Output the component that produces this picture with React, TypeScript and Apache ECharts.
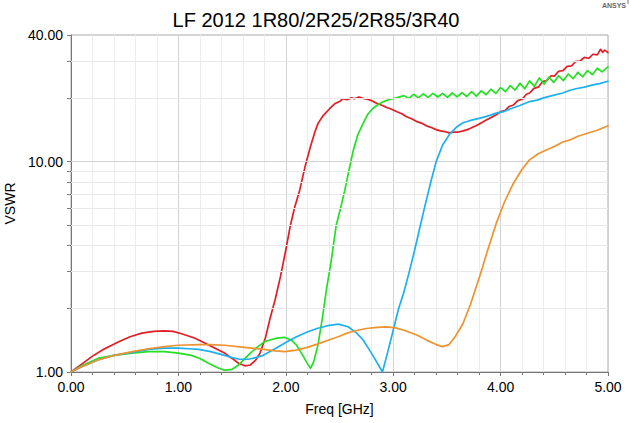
import React, { useEffect, useRef } from 'react';
import * as echarts from 'echarts';

const titleText = 'LF 2012 1R80/2R25/2R85/3R40';
const xTitle = 'Freq [GHz]';
const yTitle = 'VSWR';
const seriesNames = ['1R80', '2R25', '2R85', '3R40'];

const redData = [
  [0, 1.0], [0.1, 1.09], [0.19, 1.18], [0.3, 1.28], [0.44, 1.39], [0.55, 1.47], [0.66, 1.53], [0.77, 1.56],
  [0.87, 1.57], [0.95, 1.56], [1.03, 1.52], [1.15, 1.45], [1.25, 1.37], [1.35, 1.29], [1.43, 1.23], [1.5, 1.16],
  [1.56, 1.1], [1.62, 1.07], [1.67, 1.08], [1.72, 1.14], [1.76, 1.23], [1.81, 1.45], [1.85, 1.77], [1.9, 2.2],
  [1.95, 2.84], [2.0, 3.8], [2.04, 4.9], [2.08, 6.0], [2.13, 7.34], [2.18, 9.5], [2.23, 11.8], [2.27, 13.8],
  [2.3, 15.2], [2.35, 16.6], [2.41, 17.9], [2.46, 18.9], [2.5, 19.3], [2.53, 19.9], [2.57, 19.7], [2.61, 20.1],
  [2.64, 19.9], [2.68, 20.3], [2.72, 20.0], [2.76, 19.8], [2.8, 19.5], [2.85, 18.9], [2.9, 18.5], [2.94, 18.1],
  [2.98, 17.8], [3.03, 17.3], [3.08, 16.9], [3.12, 16.4], [3.17, 16.0], [3.22, 15.5], [3.27, 15.2], [3.31, 14.8],
  [3.36, 14.5], [3.4, 14.2], [3.44, 14.0], [3.48, 13.9], [3.52, 13.7], [3.56, 13.8], [3.6, 13.8], [3.65, 14.0],
  [3.69, 14.2], [3.72, 14.4], [3.77, 14.8], [3.81, 15.2], [3.85, 15.6], [3.88, 15.9], [3.92, 16.3], [3.96, 16.7],
  [4.0, 17.3], [4.04, 17.5], [4.08, 18.3], [4.12, 18.6], [4.16, 19.5], [4.2, 19.8], [4.24, 20.9], [4.27, 21.2],
  [4.31, 22.3], [4.35, 22.6], [4.39, 24.0], [4.43, 24.3], [4.47, 25.6], [4.5, 25.5], [4.54, 26.9], [4.58, 27.1],
  [4.62, 28.4], [4.66, 28.5], [4.7, 30.0], [4.74, 30.1], [4.78, 31.3], [4.82, 31.0], [4.86, 32.4], [4.9, 32.2],
  [4.93, 34.2], [4.95, 33.1], [4.97, 33.9], [5.0, 33.0],
];

const greenData = [
  [0, 1.0], [0.1, 1.07], [0.25, 1.16], [0.4, 1.2], [0.57, 1.23], [0.72, 1.25], [0.87, 1.25], [1.0, 1.23],
  [1.12, 1.2], [1.2, 1.16], [1.28, 1.1], [1.36, 1.05], [1.43, 1.02], [1.5, 1.03], [1.56, 1.08], [1.62, 1.16],
  [1.67, 1.23], [1.74, 1.32], [1.8, 1.39], [1.85, 1.42], [1.92, 1.45], [1.99, 1.46], [2.05, 1.42], [2.1, 1.34],
  [2.15, 1.22], [2.19, 1.12], [2.23, 1.04], [2.26, 1.12], [2.3, 1.35], [2.34, 1.8], [2.38, 2.5], [2.42, 3.3],
  [2.47, 5.0], [2.51, 6.0], [2.55, 7.34], [2.59, 9.2], [2.63, 11.4], [2.67, 13.4], [2.72, 15.2], [2.76, 16.7],
  [2.81, 17.9], [2.86, 18.7], [2.91, 19.3], [2.97, 19.8], [3.03, 20.1], [3.1, 20.6], [3.145, 20.0], [3.19, 20.9],
  [3.235, 20.1], [3.28, 21.0], [3.325, 20.2], [3.37, 21.1], [3.415, 20.3], [3.46, 21.1], [3.505, 20.2], [3.55, 21.2],
  [3.595, 20.3], [3.64, 21.3], [3.685, 20.4], [3.73, 21.5], [3.775, 20.5], [3.82, 21.7], [3.865, 20.8], [3.91, 22.1],
  [3.955, 21.1], [4.0, 22.5], [4.045, 21.5], [4.09, 23.0], [4.135, 21.9], [4.18, 23.6], [4.225, 22.2], [4.27, 24.2],
  [4.315, 22.8], [4.36, 25.0], [4.405, 23.4], [4.45, 25.2], [4.495, 23.8], [4.54, 25.6], [4.585, 24.3], [4.63, 26.1],
  [4.675, 24.8], [4.72, 26.6], [4.765, 25.3], [4.81, 27.1], [4.855, 25.9], [4.9, 27.8], [4.945, 26.7], [5.0, 28.2],
];

const blueData = [
  [0, 1.0], [0.1, 1.06], [0.25, 1.14], [0.4, 1.2], [0.57, 1.24], [0.72, 1.28], [0.87, 1.3], [1.0, 1.3],
  [1.1, 1.29], [1.19, 1.28], [1.3, 1.25], [1.43, 1.2], [1.5, 1.17], [1.57, 1.15], [1.65, 1.15], [1.72, 1.17],
  [1.79, 1.2], [1.9, 1.29], [2.0, 1.38], [2.1, 1.47], [2.2, 1.55], [2.29, 1.61], [2.39, 1.66], [2.49, 1.69],
  [2.58, 1.64], [2.66, 1.53], [2.72, 1.42], [2.78, 1.27], [2.84, 1.13], [2.9, 1.0], [2.95, 1.25], [3.0, 1.58],
  [3.05, 2.0], [3.1, 2.4], [3.15, 3.0], [3.2, 3.8], [3.25, 4.9], [3.3, 6.3], [3.35, 8.0], [3.4, 10.0],
  [3.46, 12.0], [3.53, 13.6], [3.59, 14.6], [3.65, 15.3], [3.72, 15.7], [3.81, 16.1], [3.9, 16.6], [3.96, 17.0],
  [4.03, 17.3], [4.1, 17.9], [4.18, 18.5], [4.27, 19.3], [4.34, 19.6], [4.4, 20.1], [4.48, 20.6], [4.58, 21.2],
  [4.64, 21.8], [4.7, 22.2], [4.78, 22.6], [4.85, 23.1], [4.92, 23.5], [5.0, 24.1],
];

const orangeData = [
  [0, 1.0], [0.1, 1.06], [0.25, 1.14], [0.4, 1.2], [0.57, 1.25], [0.72, 1.29], [0.87, 1.32], [1.0, 1.34],
  [1.19, 1.35], [1.3, 1.35], [1.43, 1.34], [1.55, 1.32], [1.68, 1.3], [1.8, 1.28], [1.9, 1.26], [1.99, 1.25],
  [2.1, 1.27], [2.2, 1.31], [2.3, 1.36], [2.4, 1.42], [2.5, 1.48], [2.57, 1.53], [2.65, 1.57], [2.75, 1.61],
  [2.85, 1.63], [2.94, 1.64], [3.02, 1.62], [3.1, 1.58], [3.22, 1.5], [3.32, 1.41], [3.4, 1.35], [3.46, 1.32],
  [3.52, 1.35], [3.58, 1.48], [3.65, 1.7], [3.72, 2.1], [3.81, 2.9], [3.88, 3.8], [3.96, 5.1], [4.04, 6.5],
  [4.12, 7.9], [4.2, 9.2], [4.27, 10.2], [4.35, 10.9], [4.43, 11.4], [4.5, 11.8], [4.58, 12.4], [4.65, 12.7],
  [4.72, 13.2], [4.8, 13.6], [4.9, 14.1], [5.0, 14.8],
];

const yLabelValues = [1, 10, 40];
const yTickValues = [1, 2, 3, 4, 5, 6, 7, 8, 9, 10, 20, 30, 40];
const yMinorGrid = [2, 3, 4, 5, 6, 7, 8, 9, 20, 30];
const yMajorGrid = [10];

const colors = ['#e31d24', '#22e022', '#1cb0ee', '#f0922e'];

export default function App() {
  const ref = useRef<HTMLDivElement>(null);
  useEffect(() => {
    document.body.style.margin = '0';
    const chart = echarts.init(ref.current!, null, { renderer: 'svg' });
    const font = 'Liberation Sans, Arial, sans-serif';
    const gridLines = [
      ...yMinorGrid.map((v) => ({ yAxis: v, lineStyle: { color: '#e8e8e8', width: 1, type: 'solid' } })),
      ...yMajorGrid.map((v) => ({ yAxis: v, lineStyle: { color: '#d2d2d2', width: 1, type: 'solid' } })),
    ];
    const datasets = [redData, greenData, blueData, orangeData];
    chart.setOption({
      animation: false,
      title: {
        text: titleText,
        left: 'center',
        top: 5,
        textStyle: { fontFamily: font, fontSize: 20, fontWeight: 'normal', color: '#000' },
      },
      graphic: [
        {
          type: 'text',
          right: 6,
          top: 2,
          style: { text: 'ANSYS', font: 'bold 7px ' + font, fill: '#666' },
        },
        {
          type: 'line',
          shape: { x1: 628, y1: 0, x2: 628, y2: 4 },
          style: { stroke: '#bbb', lineWidth: 2 },
        },
      ],
      grid: {
        left: 71,
        right: 24,
        top: 35,
        bottom: 51,
        containLabel: false,
        outerBoundsMode: 'none',
        show: true,
        borderColor: '#a8a8a8',
        borderWidth: 1,
      },
      xAxis: {
        type: 'value',
        min: 0,
        max: 5,
        interval: 1,
        name: xTitle,
        nameLocation: 'middle',
        nameGap: 30,
        nameTextStyle: { fontFamily: font, fontSize: 14, color: '#000' },
        axisLine: { lineStyle: { color: '#777', width: 1 } },
        axisTick: { show: true, length: 4, lineStyle: { color: '#777' } },
        minorTick: { show: true, splitNumber: 5, length: 3, lineStyle: { color: '#777' } },
        axisLabel: { formatter: (v: number) => v.toFixed(2), fontFamily: font, fontSize: 14, color: '#000', margin: 8 },
        splitLine: { show: true, lineStyle: { color: '#d2d2d2', width: 1 } },
        minorSplitLine: { show: true, lineStyle: { color: '#ececec', width: 1 } },
      },
      yAxis: {
        type: 'log',
        logBase: 10,
        min: 1,
        max: 40,
        name: yTitle,
        nameLocation: 'middle',
        nameGap: 47,
        nameTextStyle: { fontFamily: font, fontSize: 14, color: '#000' },
        axisLine: { show: true, lineStyle: { color: '#777', width: 1 } },
        axisTick: { show: true, length: 4, customValues: yTickValues, lineStyle: { color: '#777' } },
        axisLabel: {
          customValues: yLabelValues,
          formatter: (v: number) => Number(v).toFixed(2),
          fontFamily: font,
          fontSize: 14,
          color: '#000',
          margin: 8,
        },
        splitLine: { show: false },
      },
      series: [
        {
          type: 'line',
          name: 'grid',
          data: [[0, 1]],
          symbol: 'none',
          silent: true,
          z: 1,
          lineStyle: { opacity: 0 },
          markLine: { silent: true, symbol: 'none', label: { show: false }, data: gridLines, animation: false },
        },
        ...datasets.map((d, i) => ({
          type: 'line',
          name: seriesNames[i],
          data: d,
          symbol: 'none',
          smooth: false,
          z: 3 + i,
          lineStyle: { color: colors[i], width: 1.7, join: 'round', cap: 'round' },
          itemStyle: { color: colors[i] },
        })),
      ],
    });
    return () => chart.dispose();
  }, []);
  return <div ref={ref} style={{ width: 632, height: 423 }} />;
}
